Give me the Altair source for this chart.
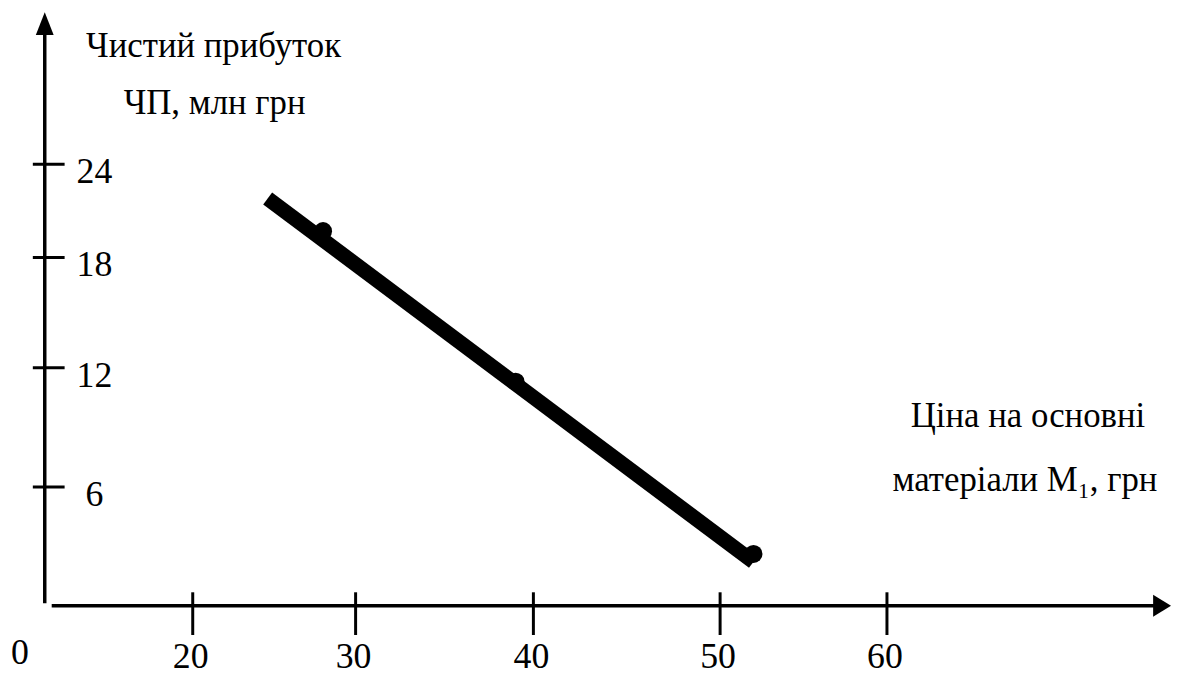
import altair as alt
import pandas as pd

# ---- data ----
price_points = [28, 39, 52]          # price of materials M1, UAH
profit_points = [19.7, 11.3, 2.6]     # net profit, mln UAH
price_line = [24.6, 52.0]
profit_line = [21.8, 2.2]
x_ticks = [20, 30, 40, 50, 60]
x_tick_labels = ["20", "30", "40", "50", "60"]
y_ticks = [6, 12, 18, 24]
y_tick_labels = ["6", "12", "18", "24"]
y_title = ["Чистий прибуток", "ЧП, млн грн"]
x_title = ["Ціна на основні", "матеріали M₁, грн"]
origin_label = ["0"]

W, H = 1172, 672
FONT = "'Liberation Serif', 'Times New Roman', 'DejaVu Serif', serif"
NUM_SIZE = 36
TITLE_SIZE = 35

x_scale = alt.Scale(domain=[20, 30, 40, 50, 60], range=[186, 350, 529, 717, 885], zero=False, nice=False)
y_scale = alt.Scale(domain=[0, 6, 12, 18, 24], range=[599, 480, 360, 249, 155], zero=False, nice=False)


def X(f):
    return alt.X(f, type="quantitative", scale=x_scale, axis=None)


def Y(f):
    return alt.Y(f, type="quantitative", scale=y_scale, axis=None)


pts = pd.DataFrame({"price": price_points, "profit": profit_points})
ln = pd.DataFrame({"price": price_line, "profit": profit_line})
xt = pd.DataFrame({"v": x_ticks, "label": x_tick_labels})
yt = pd.DataFrame({"v": y_ticks, "label": y_tick_labels})
one = pd.DataFrame({"a": [0]})

line = alt.Chart(ln).mark_line(color="black", strokeWidth=15, strokeCap="butt").encode(
    x=X("price"), y=Y("profit"))
dots = alt.Chart(pts).mark_circle(color="black", size=330, opacity=1).encode(
    x=X("price"), y=Y("profit"))

y_axis = alt.Chart(one).mark_rule(color="black", strokeWidth=3.5).encode(
    x=alt.value(37), y=alt.value(12), y2=alt.value(597))
x_axis = alt.Chart(one).mark_rule(color="black", strokeWidth=3.5).encode(
    x=alt.value(44), x2=alt.value(1158), y=alt.value(599.5))
y_arrow = alt.Chart(one).mark_point(
    shape="M0,-1L0.78,1L-0.78,1Z", filled=True, size=529, color="black", opacity=1, strokeWidth=0
).encode(x=alt.value(37), y=alt.value(13.5))
x_arrow = alt.Chart(one).mark_point(
    shape="M0.82,0L-0.82,-1L-0.82,1Z", filled=True, size=484, color="black", opacity=1, strokeWidth=0
).encode(x=alt.value(1162), y=alt.value(599.5))

x_tick_marks = alt.Chart(xt).mark_rule(color="black", strokeWidth=3).encode(
    x=X("v"), y=alt.value(586), y2=alt.value(629))
y_tick_marks = alt.Chart(yt).mark_rule(color="black", strokeWidth=3).encode(
    y=Y("v"), x=alt.value(25), x2=alt.value(57))

x_labels = alt.Chart(xt).mark_text(font=FONT, fontSize=NUM_SIZE, align="center", baseline="alphabetic",
                                   dx=-2, color="black").encode(
    x=X("v"), y=alt.value(662), text="label:N")
y_labels = alt.Chart(yt).mark_text(font=FONT, fontSize=NUM_SIZE, align="center", baseline="alphabetic",
                                   dy=19, color="black").encode(
    x=alt.value(87), y=Y("v"), text="label:N")
zero_label = alt.Chart(pd.DataFrame({"t": origin_label})).mark_text(
    font=FONT, fontSize=NUM_SIZE, align="center", baseline="alphabetic", color="black").encode(
    x=alt.value(12), y=alt.value(658), text="t:N")

yt1 = alt.Chart(pd.DataFrame({"t": [y_title[0]]})).mark_text(
    font=FONT, fontSize=TITLE_SIZE, align="center", baseline="alphabetic", color="black").encode(
    x=alt.value(207), y=alt.value(47), text="t:N")
yt2 = alt.Chart(pd.DataFrame({"t": [y_title[1]]})).mark_text(
    font=FONT, fontSize=TITLE_SIZE, align="center", baseline="alphabetic", color="black").encode(
    x=alt.value(208), y=alt.value(104), text="t:N")
xt1 = alt.Chart(pd.DataFrame({"t": [x_title[0]]})).mark_text(
    font=FONT, fontSize=TITLE_SIZE, align="center", baseline="alphabetic", color="black").encode(
    x=alt.value(1027), y=alt.value(420), text="t:N")
xt2 = alt.Chart(pd.DataFrame({"t": [x_title[1]]})).mark_text(
    font=FONT, fontSize=TITLE_SIZE, align="center", baseline="alphabetic", color="black").encode(
    x=alt.value(1024), y=alt.value(484), text="t:N")

chart = alt.layer(
    y_axis, x_axis, y_arrow, x_arrow, x_tick_marks, y_tick_marks,
    line, dots, x_labels, y_labels, zero_label, yt1, yt2, xt1, xt2
).properties(
    width=W, height=H, autosize=alt.AutoSizeParams(type="none"), padding=0
).configure_view(strokeWidth=0)

chart.save("out.html", embed_options={"renderer": "svg", "actions": False})
